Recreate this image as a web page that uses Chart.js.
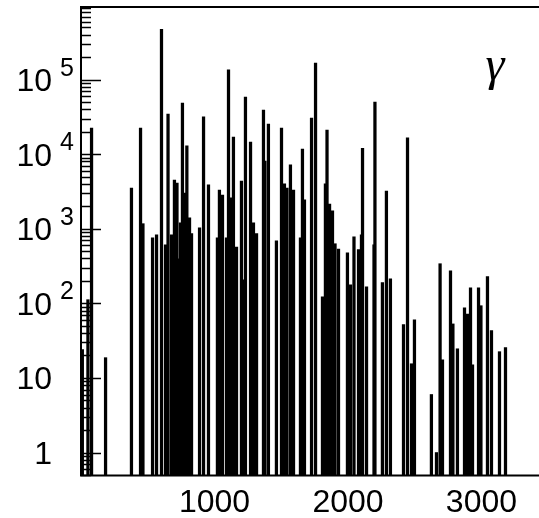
<!DOCTYPE html>
<html>
<head>
<meta charset="utf-8">
<script src="https://cdn.jsdelivr.net/npm/chart.js@4.4.1/dist/chart.umd.min.js"></script>
<style>
html, body { margin: 0; padding: 0; background: #fff; }
</style>
</head>
<body>
<canvas id="spectrum" width="539" height="518"></canvas>
<script>
// gamma lines: energy (keV) and counts
const energies = [10, 52, 79, 184, 378, 446, 464, 536, 566, 603, 633, 652, 678, 700, 719, 727, 745, 760, 775, 793,
    813, 828, 888, 918, 955, 1022, 1037, 1060, 1090, 1105, 1127, 1142, 1165, 1202, 1221, 1232, 1270, 1292, 1315,
    1367, 1378, 1404, 1464, 1502, 1524, 1543, 1569, 1592, 1644, 1659, 1674, 1727, 1757, 1809, 1831, 1843, 1862,
    1884, 1903, 1929, 1996, 2019, 2045, 2079, 2101, 2109, 2139, 2195, 2202, 2258, 2288, 2318, 2416, 2446, 2476,
    2498, 2625, 2663, 2690, 2708, 2768, 2786, 2820, 2873, 2895, 2918, 2933, 2978, 2996, 3045, 3075, 3135, 3180];
const counts = [24, 112, 22400, 18.7, 3500, 22400, 1170, 755, 830, 470000, 610, 34500, 830, 4500, 4100, 395, 1200, 48600, 3000, 12900,
    1400, 860, 1030, 31600, 3880, 755, 3300, 2830, 755, 135000, 2600, 17000, 570, 4370, 207, 58500, 14500, 1200, 860,
    39000, 8100, 25400, 690, 22400, 4000, 3500, 7200, 3300, 755, 11700, 2450, 30500, 166000, 122, 4000, 21000, 2150,
    1740, 630, 535, 475, 177, 780, 525, 830, 12000, 167, 610, 50000, 190, 3200, 213, 52, 16600, 15.5,
    60, 6, 1.0, 340, 17.5, 273, 53, 24.6, 87, 72, 162, 15, 162, 93, 228, 43, 22.5, 25.5];

const xTicks = [1000, 2000, 3000];
const yDecades = [0, 1, 2, 3, 4, 5];
const xRange = [0, 3431];
const yRange = [0.5, 940000];

const framePlugin = {
    id: 'frame',
    afterDraw(chart) {
        const ctx = chart.ctx;
        const area = chart.chartArea;
        const x = chart.scales.x;
        const y = chart.scales.y;
        ctx.save();
        ctx.strokeStyle = '#000';
        ctx.fillStyle = '#000';

        // frame: left, top, bottom
        ctx.lineWidth = 2;
        ctx.beginPath();
        ctx.moveTo(area.left, area.bottom + 1);
        ctx.lineTo(area.left, area.top);
        ctx.lineTo(chart.width, area.top);
        ctx.moveTo(area.left - 1, area.bottom + 0.5);
        ctx.lineTo(chart.width, area.bottom + 0.5);
        ctx.stroke();

        // log ticks inside the left axis
        ctx.lineWidth = 1.5;
        ctx.beginPath();
        for (let k = -1; k <= 6; k++) {
            for (let m = 1; m <= 9; m++) {
                const v = m * Math.pow(10, k);
                if (v < yRange[0] || v > yRange[1]) continue;
                const py = Math.round(y.getPixelForValue(v)) + 0.5;
                const len = m === 1 ? 20 : 10;
                ctx.moveTo(area.left, py);
                ctx.lineTo(area.left + len, py);
            }
        }
        ctx.stroke();

        // y labels: 1, 10, 10^2 ...
        yDecades.forEach(k => {
            const py = y.getPixelForValue(Math.pow(10, k));
            ctx.font = '32px "Liberation Sans", Arial, sans-serif';
            ctx.textAlign = 'right';
            ctx.textBaseline = 'alphabetic';
            ctx.fillText(k === 0 ? '1' : '10', 52, py + 11.5);
            if (k >= 2) {
                ctx.font = '25px "Liberation Sans", Arial, sans-serif';
                ctx.textAlign = 'left';
                ctx.fillText(String(k), 60, py - 4);
            }
        });

        // x labels
        ctx.font = '32px "Liberation Sans", Arial, sans-serif';
        ctx.textAlign = 'center';
        ctx.textBaseline = 'alphabetic';
        xTicks.forEach(t => {
            ctx.fillText(String(t), x.getPixelForValue(t), 512);
        });

        // particle label
        ctx.font = 'italic 48px "Liberation Serif", "Times New Roman", serif';
        ctx.fillText('γ', 495, 80);
        ctx.restore();
    }
};

new Chart(document.getElementById('spectrum'), {
    type: 'bar',
    data: {
        datasets: [{
            data: energies.map((e, i) => ({ x: e, y: counts[i] })),
            backgroundColor: '#000',
            borderWidth: 0,
            barThickness: 2.6
        }]
    },
    options: {
        responsive: false,
        animation: false,
        devicePixelRatio: 1,
        layout: { padding: { left: 81, top: 7, right: 0, bottom: 43 } },
        plugins: { legend: { display: false }, tooltip: { enabled: false } },
        scales: {
            x: { type: 'linear', min: xRange[0], max: xRange[1], display: false, offset: false },
            y: { type: 'logarithmic', min: yRange[0], max: yRange[1], display: false }
        }
    },
    plugins: [framePlugin]
});
</script>
</body>
</html>
